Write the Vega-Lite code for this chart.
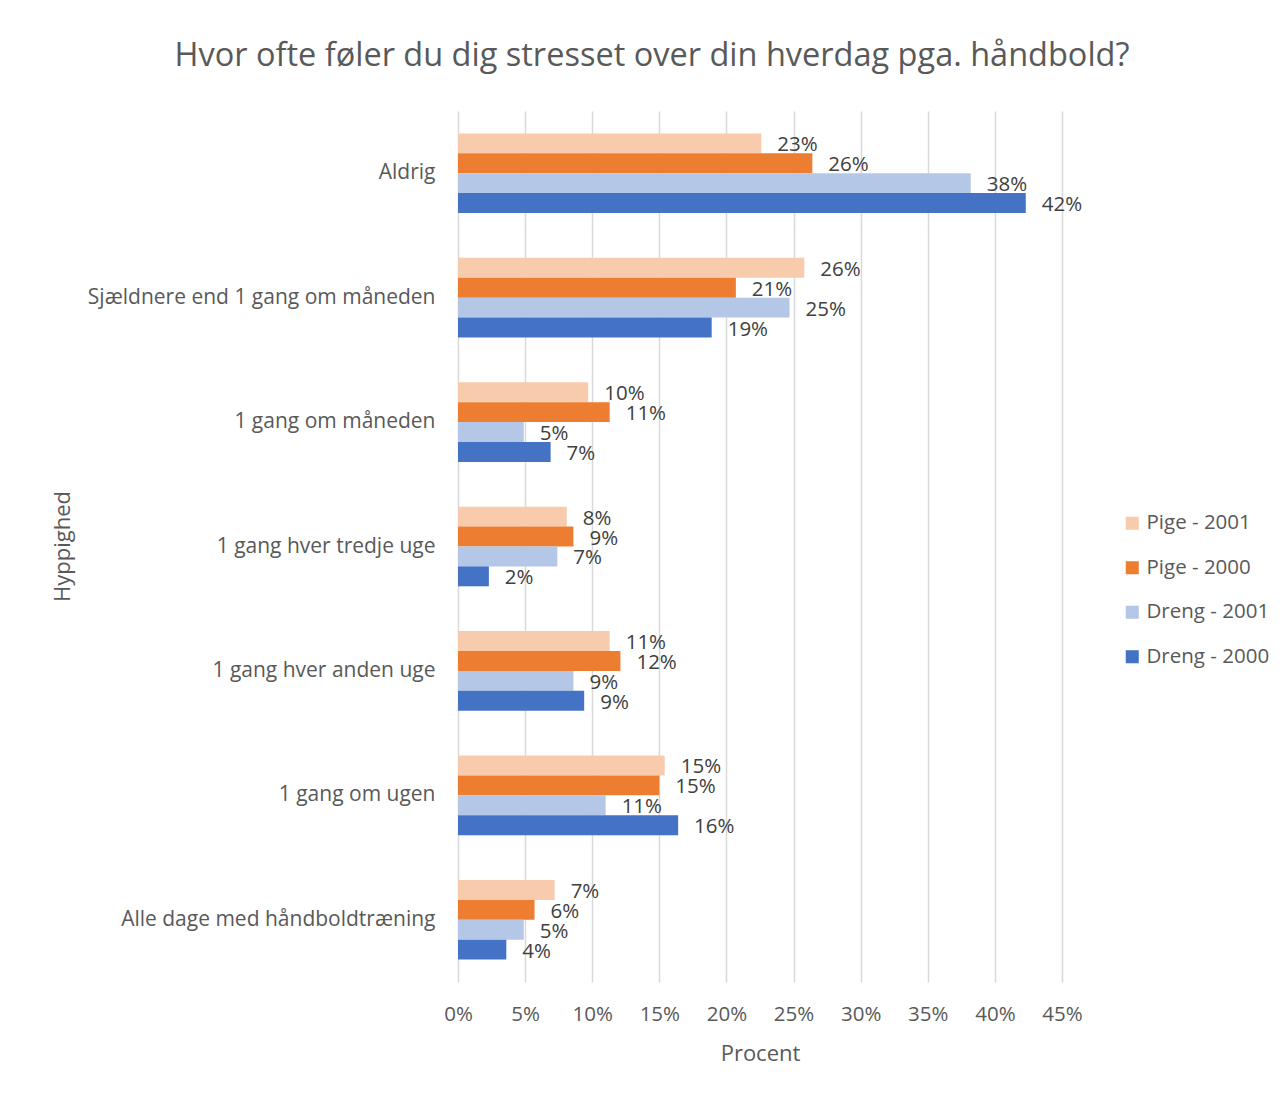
{
  "$schema": "https://vega.github.io/schema/vega-lite/v6.json",
  "autosize": {"type": "none"},
  "padding": {"left": 458, "top": 111, "right": 223, "bottom": 113},
  "width": 604,
  "height": 871,
  "background": "white",
  "config": {"view": {"stroke": null}},
  "title": {
    "text": "Hvor ofte føler du dig stresset over din hverdag pga. håndbold?",
    "anchor": "middle",
    "dx": -108,
    "offset": 39,
    "font": "Open Sans",
    "fontSize": 32.5,
    "fontWeight": "normal",
    "color": "#595959"
  },
  "data": {
    "values": [
      {"kategori": "Aldrig", "serie": "Pige - 2001", "andel": 0.226},
      {"kategori": "Aldrig", "serie": "Pige - 2000", "andel": 0.264},
      {"kategori": "Aldrig", "serie": "Dreng - 2001", "andel": 0.382},
      {"kategori": "Aldrig", "serie": "Dreng - 2000", "andel": 0.423},
      {"kategori": "Sjældnere end 1 gang om måneden", "serie": "Pige - 2001", "andel": 0.258},
      {"kategori": "Sjældnere end 1 gang om måneden", "serie": "Pige - 2000", "andel": 0.207},
      {"kategori": "Sjældnere end 1 gang om måneden", "serie": "Dreng - 2001", "andel": 0.247},
      {"kategori": "Sjældnere end 1 gang om måneden", "serie": "Dreng - 2000", "andel": 0.189},
      {"kategori": "1 gang om måneden", "serie": "Pige - 2001", "andel": 0.097},
      {"kategori": "1 gang om måneden", "serie": "Pige - 2000", "andel": 0.113},
      {"kategori": "1 gang om måneden", "serie": "Dreng - 2001", "andel": 0.049},
      {"kategori": "1 gang om måneden", "serie": "Dreng - 2000", "andel": 0.069},
      {"kategori": "1 gang hver tredje uge", "serie": "Pige - 2001", "andel": 0.081},
      {"kategori": "1 gang hver tredje uge", "serie": "Pige - 2000", "andel": 0.086},
      {"kategori": "1 gang hver tredje uge", "serie": "Dreng - 2001", "andel": 0.074},
      {"kategori": "1 gang hver tredje uge", "serie": "Dreng - 2000", "andel": 0.023},
      {"kategori": "1 gang hver anden uge", "serie": "Pige - 2001", "andel": 0.113},
      {"kategori": "1 gang hver anden uge", "serie": "Pige - 2000", "andel": 0.121},
      {"kategori": "1 gang hver anden uge", "serie": "Dreng - 2001", "andel": 0.086},
      {"kategori": "1 gang hver anden uge", "serie": "Dreng - 2000", "andel": 0.094},
      {"kategori": "1 gang om ugen", "serie": "Pige - 2001", "andel": 0.154},
      {"kategori": "1 gang om ugen", "serie": "Pige - 2000", "andel": 0.150},
      {"kategori": "1 gang om ugen", "serie": "Dreng - 2001", "andel": 0.110},
      {"kategori": "1 gang om ugen", "serie": "Dreng - 2000", "andel": 0.164},
      {"kategori": "Alle dage med håndboldtræning", "serie": "Pige - 2001", "andel": 0.072},
      {"kategori": "Alle dage med håndboldtræning", "serie": "Pige - 2000", "andel": 0.057},
      {"kategori": "Alle dage med håndboldtræning", "serie": "Dreng - 2001", "andel": 0.049},
      {"kategori": "Alle dage med håndboldtræning", "serie": "Dreng - 2000", "andel": 0.036}
    ]
  },
  "encoding": {
    "y": {
      "field": "kategori",
      "type": "nominal",
      "sort": ["Aldrig", "Sjældnere end 1 gang om måneden", "1 gang om måneden", "1 gang hver tredje uge", "1 gang hver anden uge", "1 gang om ugen", "Alle dage med håndboldtræning"],
      "scale": {"paddingInner": 0.36, "paddingOuter": 0.18},
      "axis": {
        "title": "Hyppighed",
        "titleFont": "Open Sans",
        "titleFontSize": 22,
        "titleFontWeight": "normal",
        "titleColor": "#595959",
        "titleX": -396,
        "titleY": 435,
        "titleAngle": 270,
        "titleAlign": "center",
        "titleBaseline": "middle",
        "labelFont": "Open Sans",
        "labelFontSize": 21,
        "labelColor": "#595959",
        "labelPadding": 23,
        "labelLimit": 420,
        "ticks": false,
        "domain": false,
        "grid": false
      }
    },
    "yOffset": {
      "field": "serie",
      "type": "nominal",
      "sort": ["Pige - 2001", "Pige - 2000", "Dreng - 2001", "Dreng - 2000"]
    },
    "x": {
      "field": "andel",
      "type": "quantitative",
      "scale": {"domain": [0, 0.45], "nice": false},
      "axis": {
        "title": "Procent",
        "titleFont": "Open Sans",
        "titleFontSize": 22,
        "titleFontWeight": "normal",
        "titleColor": "#595959",
        "titleY": 71,
        "titleBaseline": "middle",
        "format": ".0%",
        "values": [0, 0.05, 0.1, 0.15, 0.2, 0.25, 0.3, 0.35, 0.4, 0.45],
        "labelFont": "Open Sans",
        "labelFontSize": 20.5,
        "labelColor": "#595959",
        "labelPadding": 22,
        "labelFlush": false,
        "labelOverlap": false,
        "ticks": false,
        "domain": false,
        "grid": true,
        "gridColor": "#D9D9D9",
        "gridWidth": 1.5
      }
    }
  },
  "layer": [
    {
      "mark": {"type": "bar"},
      "encoding": {
        "color": {
          "field": "serie",
          "type": "nominal",
          "sort": ["Pige - 2001", "Pige - 2000", "Dreng - 2001", "Dreng - 2000"],
          "scale": {
            "domain": ["Pige - 2001", "Pige - 2000", "Dreng - 2001", "Dreng - 2000"],
            "range": ["#F8CBAD", "#ED7D31", "#B4C7E7", "#4472C4"]
          },
          "legend": {
            "title": null,
            "orient": "none",
            "legendX": 664,
            "legendY": 402,
            "symbolType": "square",
            "symbolSize": 170,
            "symbolStrokeWidth": 0,
            "labelFont": "Open Sans",
            "labelFontSize": 20.5,
            "labelColor": "#595959",
            "labelOffset": 4,
            "rowPadding": 23.5
          }
        }
      }
    },
    {
      "mark": {
        "type": "text",
        "align": "left",
        "baseline": "middle",
        "dx": 16,
        "dy": 2,
        "font": "Open Sans",
        "fontSize": 20.5,
        "color": "#404040"
      },
      "encoding": {
        "text": {"field": "andel", "type": "quantitative", "format": ".0%"}
      }
    }
  ]
}
